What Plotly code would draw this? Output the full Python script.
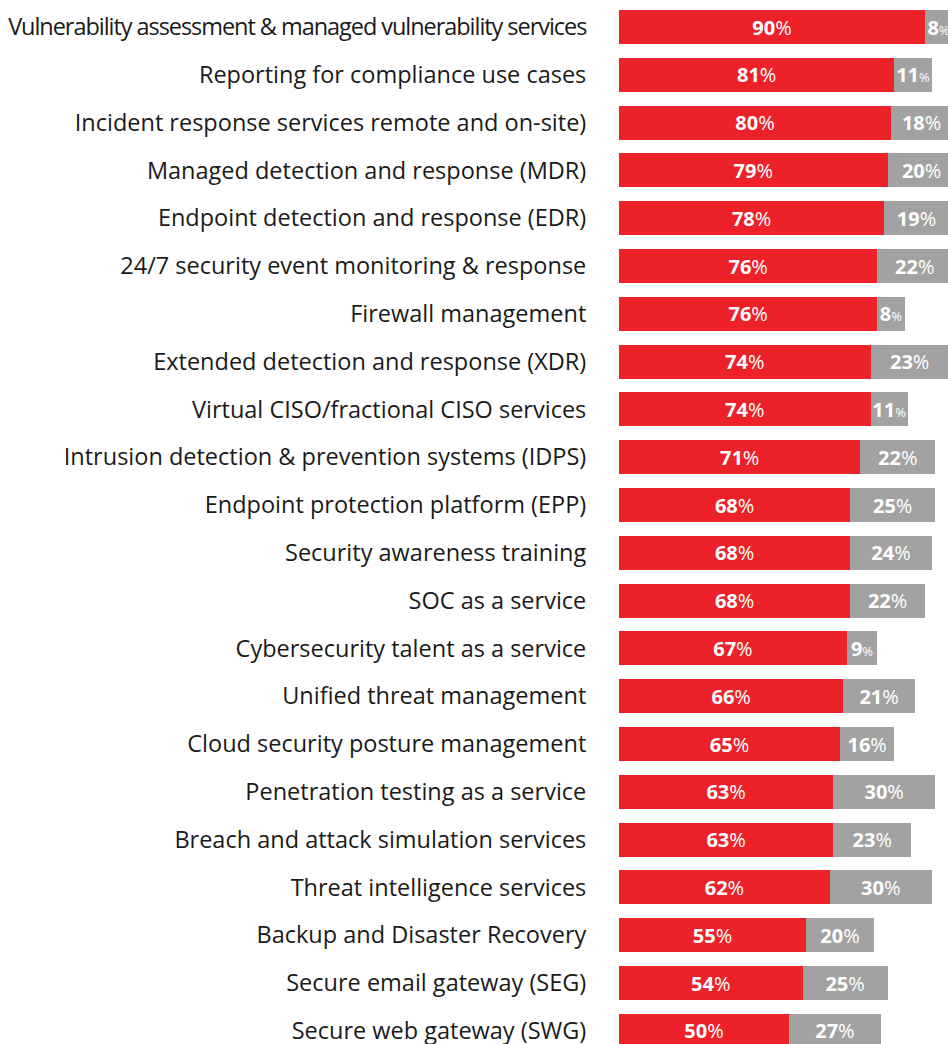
import plotly.graph_objects as go

categories = [
    "Vulnerability assessment & managed vulnerability services",
    "Reporting for compliance use cases",
    "Incident response services remote and on-site)",
    "Managed detection and response (MDR)",
    "Endpoint detection and response (EDR)",
    "24/7 security event monitoring & response",
    "Firewall management",
    "Extended detection and response (XDR)",
    "Virtual CISO/fractional CISO services",
    "Intrusion detection & prevention systems (IDPS)",
    "Endpoint protection platform (EPP)",
    "Security awareness training",
    "SOC as a service",
    "Cybersecurity talent as a service",
    "Unified threat management",
    "Cloud security posture management",
    "Penetration testing as a service",
    "Breach and attack simulation services",
    "Threat intelligence services",
    "Backup and Disaster Recovery",
    "Secure email gateway (SEG)",
    "Secure web gateway (SWG)",
]
red_values = [90, 81, 80, 79, 78, 76, 76, 74, 74, 71, 68, 68, 68, 67, 66, 65, 63, 63, 62, 55, 54, 50]
gray_values = [8, 11, 18, 20, 19, 22, 8, 23, 11, 22, 25, 24, 22, 9, 21, 16, 30, 23, 30, 20, 25, 27]

RED = "#EC2129"
GRAY = "#A2A2A2"
FONT = "Open Sans"


def label(v):
    if v < 12:
        return f"<b>{v}</b><span style='font-size:13px'>%</span>"
    return f"<b>{v}</b>%"


ticktext = []
for i, c in enumerate(categories):
    if i == 0:
        ticktext.append(f"<span style='letter-spacing:-1.05px'>{c}</span>")
    else:
        ticktext.append(c)

fig = go.Figure()
fig.add_trace(go.Bar(
    y=categories, x=red_values, orientation="h",
    marker=dict(color=RED, line=dict(width=0)),
    text=[label(v) for v in red_values],
    textposition="inside", insidetextanchor="middle", textangle=0,
    constraintext="none",
    textfont=dict(family=FONT, size=20, color="white"),
    hoverinfo="skip",
))
fig.add_trace(go.Bar(
    y=categories, x=gray_values, orientation="h",
    marker=dict(color=GRAY, line=dict(width=0)),
    text=[label(v) for v in gray_values],
    textposition="inside", insidetextanchor="middle", textangle=0,
    constraintext="none",
    textfont=dict(family=FONT, size=20, color="white"),
    hoverinfo="skip",
))

fig.update_layout(
    barmode="stack",
    bargap=0.29,
    width=948, height=1044,
    margin=dict(l=619, r=0, t=0, b=0),
    paper_bgcolor="white", plot_bgcolor="white",
    showlegend=False,
    font=dict(family=FONT, size=23.5, color="#1a1a1a"),
    xaxis=dict(range=[0, 96.76], visible=False, fixedrange=True),
    yaxis=dict(
        type="category",
        range=[21.276, -0.565],
        tickmode="array", tickvals=categories, ticktext=ticktext,
        ticks="outside", ticklen=27, tickcolor="rgba(0,0,0,0)",
        showgrid=False, zeroline=False, showline=False,
        tickfont=dict(family=FONT, size=23.5, color="#1a1a1a"),
        automargin=False, fixedrange=True,
    ),
)

fig.write_html("out.html")
